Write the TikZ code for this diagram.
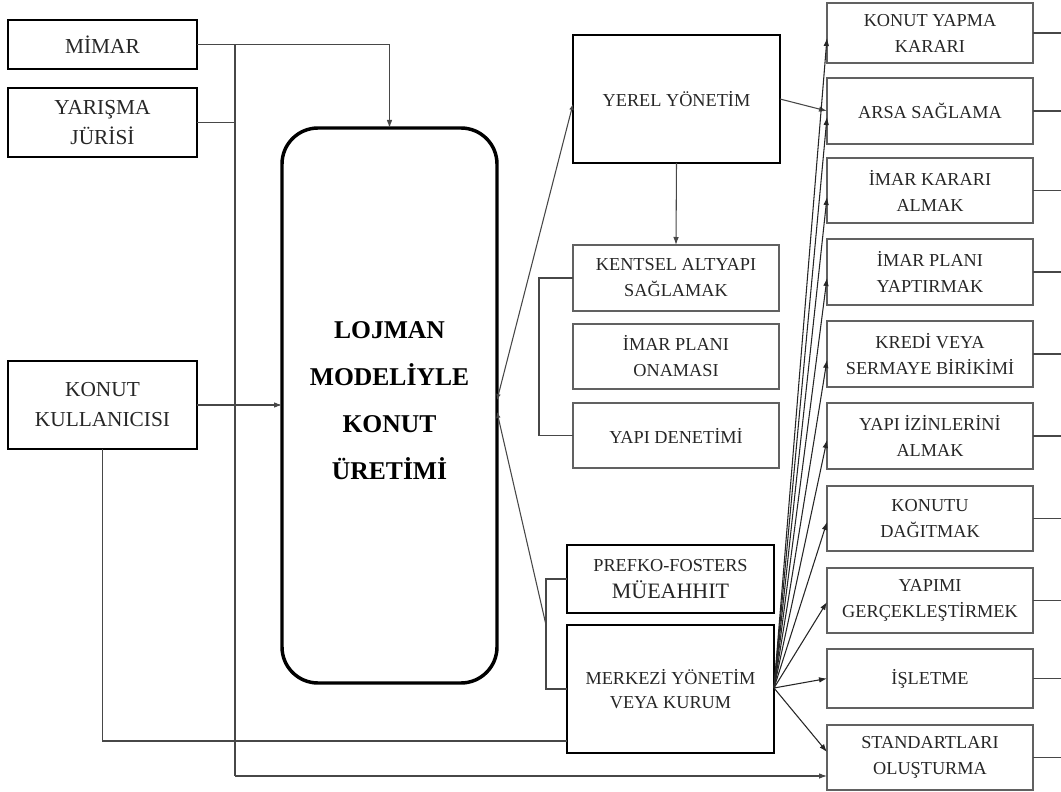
\documentclass[tikz,border=0pt]{standalone}
\usepackage{fontspec}
\setmainfont{Liberation Serif}
\usetikzlibrary{arrows.meta,calc}
\begin{document}
\begin{tikzpicture}[x=0.75pt,y=-0.75pt,
  sz/.style 2 args={minimum width=#1*0.75pt,minimum height=#2*0.75pt},
  base/.style={draw,inner sep=0pt,outer sep=0pt,align=center,text=black!85,font=\fontsize{13.7}{19.5}\selectfont},
  thickbox/.style={base,line width=1.6pt,draw=black},
  thinbox/.style={base,line width=1.1pt,draw=black!62},
  leftbox/.style={thickbox,font=\fontsize{16}{22.5}\selectfont},
  conn/.style={line width=0.8pt,draw=black!72},
  arr/.style={conn,-{Latex[length=6pt,width=4.2pt]}},
  smalltip/.tip={Latex[length=4.5pt,width=3.5pt]},
]
\useasboundingbox (0,0) rectangle (1061,792);
% left column
\node[leftbox,sz={189}{49}] (mimar) at (102.5,44.5) {MİMAR};
\node[leftbox,sz={189}{69}] (juri) at (102.5,122.5) {YARIŞMA\\JÜRİSİ};
\node[leftbox,sz={189}{88}] (kullanici) at (102.5,405) {KONUT\\KULLANICISI};
% central box
\node[base,line width=2.6pt,draw=black,rounded corners=27pt,sz={215}{555},text depth=7.5pt,
  font=\bfseries\fontsize{19.2}{35.25}\selectfont,text=black] (big) at (389.5,405.5)
  {LOJMAN\\MODELİYLE\\KONUT\\ÜRETİMİ};
% middle column
\node[thickbox,sz={207}{128}] (yerel) at (676.5,99) {YEREL YÖNETİM};
\node[thinbox,sz={206}{66}] (kentsel) at (676,278) {KENTSEL ALTYAPI\\SAĞLAMAK};
\node[thinbox,sz={206}{65}] (onama) at (676,356.5) {İMAR PLANI\\ONAMASI};
\node[thinbox,sz={206}{65}] (denetim) at (676,435.5) {YAPI DENETİMİ};
\node[thickbox,sz={207}{68},font=\fontsize{13.7}{20.25}\selectfont] (prefko) at (670.5,579)
  {PREFKO-FOSTERS\\{\fontsize{16.5}{20.25}\selectfont MÜEAHHIT}};
\node[thickbox,sz={207}{128},font=\fontsize{13.7}{18}\selectfont] (merkezi) at (670.5,689) {MERKEZİ YÖNETİM\\VEYA KURUM};
% right column
\node[thinbox,sz={206}{60}] (r1) at (930,33) {KONUT YAPMA\\KARARI};
\node[thinbox,sz={206}{66}] (r2) at (930,111) {ARSA SAĞLAMA};
\node[thinbox,sz={206}{65}] (r3) at (930,190.5) {İMAR KARARI\\ALMAK};
\node[thinbox,sz={206}{66}] (r4) at (930,272) {İMAR PLANI\\YAPTIRMAK};
\node[thinbox,sz={206}{66}] (r5) at (930,354) {KREDİ VEYA\\SERMAYE BİRİKİMİ};
\node[thinbox,sz={206}{66}] (r6) at (930,436) {YAPI İZİNLERİNİ\\ALMAK};
\node[thinbox,sz={206}{65}] (r7) at (930,518.5) {KONUTU\\DAĞITMAK};
\node[thinbox,sz={206}{65}] (r8) at (930,600.5) {YAPIMI\\GERÇEKLEŞTİRMEK};
\node[thinbox,sz={206}{59}] (r9) at (930,678.5) {İŞLETME};
\node[thinbox,sz={206}{65}] (r10) at (930,757.5) {STANDARTLARI\\OLUŞTURMA};
% helper coordinates
\coordinate (vt) at (235,44.5);
\coordinate (vb) at (235,776);
\coordinate (kb) at (102.5,741);
\coordinate (bin1) at (497,400);
\coordinate (bin2) at (497,412);
\coordinate (yin) at (573,104);
\coordinate (bm) at (546,625);
\coordinate (mb) at (539,0);
\coordinate (fo) at (774,688);
\coordinate (re) at (1061,0);
% connectors on the left
\draw[arr] (mimar.east) -| (big.north);
\draw[conn] (vt) -- (vb);
\draw[arr] (vb) -- (vb -| r10.west);
\draw[conn] (juri.east) -- (juri.east -| vt);
\draw[arr] (kullanici.east) -- (kullanici.east -| big.west);
\draw[conn] (kullanici.south) -- (kb) -- (kb -| merkezi.west);
% connectors from the central box
\draw[conn,smalltip-smalltip] (bin1) -- (yin);
\draw[conn,smalltip-] (bin2) -- (bm);
\draw[conn] (prefko.west) -- (bm |- prefko.west) -- (bm |- merkezi.west) -- (merkezi.west);
\draw[conn] (kentsel.west) -- (mb |- kentsel.west) -- (mb |- denetim.west) -- (denetim.west);
\draw[arr] (yerel.south) -- (kentsel.north);
\draw[arr] (yerel.east) -- (r2.west);
% fan from MERKEZI
\foreach \n/\d in {1/5,2/6,3/6.5,4/6,5/6,6/4,7/3.5,8/1.5,9/0,10/-5.5}
  \draw[arr,draw=black!85] (fo) -- ($(r\n.west)+(0,\d)$);
% lines leaving on the right
\foreach \n in {1,...,10}
  \draw[conn] (r\n.east) -- (r\n.east -| re);
\end{tikzpicture}
\end{document}
